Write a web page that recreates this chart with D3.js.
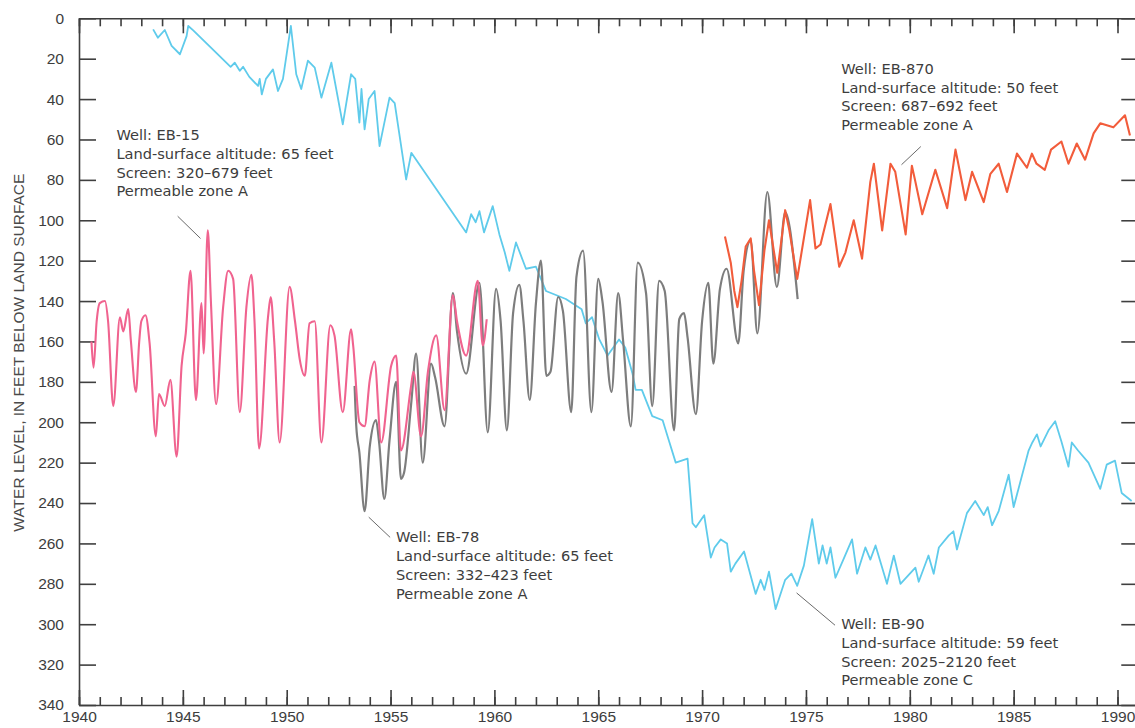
<!DOCTYPE html>
<meta charset="utf-8">
<style>
  body { margin: 0; background: #fff; }
  svg { display: block; }
</style>
<div id="hydro"></div>
<script src="https://d3js.org/d3.v7.min.js"></script>
<script>

// water levels, feet below land surface
var eb15 = [[1940.6,160],[1940.7,173],[1940.85,150],[1941.0,141],[1941.25,140],[1941.4,150],[1941.65,192],
  [1941.97,148],[1942.13,155],[1942.37,144],[1942.5,160],[1942.74,185],[1942.9,160],[1943.0,150],[1943.2,147],
  [1943.4,161],[1943.7,207],[1943.85,186],[1944.13,192],[1944.4,179],[1944.7,217],[1944.94,172],[1945.14,156],
  [1945.37,125],[1945.63,189],[1945.9,141],[1946.0,166],[1946.2,105],[1946.35,140],[1946.6,191],[1946.94,143],
  [1947.18,125],[1947.42,129],[1947.74,195],[1948.06,143],[1948.3,127],[1948.45,150],[1948.67,213],[1949.1,148],
  [1949.23,138],[1949.4,160],[1949.66,210],[1950.14,133],[1950.4,150],[1950.63,169],[1950.87,177],[1951.1,151],
  [1951.35,150],[1951.67,210],[1952.1,152],[1952.3,157],[1952.7,195],[1953.1,154],[1953.2,162],[1953.5,200],
  [1953.75,202],[1954.0,179],[1954.23,170],[1954.55,210],[1955.03,172],[1955.27,167],[1955.5,214],[1955.99,182],
  [1956.1,175],[1956.47,207],[1956.8,175],[1957.2,157],[1957.6,194],[1958.0,137],[1958.2,150],[1958.64,167],
  [1959.2,130],[1959.44,162],[1959.63,149]];

var eb78 = [[1953.27,182],[1953.35,202],[1953.5,215],[1953.75,244],[1954.0,212],[1954.3,199],[1954.45,210],
  [1954.7,238],[1954.95,209],[1955.27,180],[1955.5,228],[1955.65,225],[1956.0,190],[1956.23,166],[1956.55,220],
  [1956.95,171],[1957.15,178],[1957.6,202],[1958.0,136],[1958.2,155],[1958.64,176],[1959.28,131],[1959.68,205],
  [1960.08,134],[1960.3,150],[1960.6,204],[1960.9,146],[1961.2,132],[1961.4,150],[1961.7,189],[1962.0,141],
  [1962.24,120],[1962.5,177],[1962.7,175],[1963.07,138],[1963.3,145],[1963.7,195],[1963.95,128],[1964.27,115],
  [1964.67,195],[1965.0,129],[1965.2,140],[1965.64,185],[1965.96,136],[1966.2,160],[1966.57,202],[1966.9,121],
  [1967.3,136],[1967.6,192],[1967.93,130],[1968.2,135],[1968.65,204],[1968.9,149],[1969.13,146],[1969.3,158],
  [1969.7,196],[1970.0,150],[1970.3,131],[1970.54,171],[1970.86,134],[1971.18,124],[1971.74,161],[1972.0,125],
  [1972.34,110],[1972.66,156],[1973.14,86],[1973.6,133],[1974.0,96],[1974.6,139]];

var eb90 = [[1943.57,5.5],[1943.8,9.6],[1944.13,5.8],[1944.46,13.7],[1944.86,17.8],[1945.18,8.8],[1945.26,3.8],
  [1945.5,6],[1946.5,16],[1947.3,24],[1947.5,22],[1947.74,26],[1947.9,24],[1948.2,29],[1948.62,33.5],[1948.7,30],
  [1948.8,37.7],[1949.0,30],[1949.34,25.3],[1949.58,36],[1949.82,30],[1950.2,3.8],[1950.46,27.7],[1950.7,35],
  [1951.02,21],[1951.35,24.4],[1951.67,39.3],[1952.15,22],[1952.7,52.5],[1953.1,27.7],[1953.3,30],[1953.5,51.7],
  [1953.6,35],[1953.75,55],[1953.95,40],[1954.23,36],[1954.47,63.3],[1954.95,39.3],[1955.2,42],[1955.75,79.8],
  [1956.0,66.6],[1958.64,106],[1958.88,97],[1959.1,101],[1959.28,95.5],[1959.5,106],[1959.92,93],[1960.24,107],
  [1960.5,116],[1960.72,125],[1961.04,111],[1961.52,124],[1962.0,123],[1962.48,135],[1963.44,139],[1964.2,144],
  [1964.4,151],[1964.7,148],[1965.05,159],[1965.45,167],[1966.0,159],[1966.3,163],[1966.65,176],[1966.8,184],
  [1967.1,184],[1967.6,197],[1968.1,199],[1968.4,209],[1968.73,220],[1969.3,218],[1969.54,250],[1969.7,252],
  [1970.1,246],[1970.42,267],[1970.6,262],[1970.9,258],[1971.2,260],[1971.38,274],[1971.6,270],[1972.02,264],
  [1972.58,285],[1972.82,278],[1973.0,283],[1973.22,274],[1973.54,292.5],[1974.0,278],[1974.3,275],[1974.58,281],
  [1974.9,271],[1975.3,248],[1975.62,270],[1975.8,261],[1976.0,270],[1976.18,262],[1976.42,277],[1976.8,268],
  [1977.22,258],[1977.46,275],[1977.86,262],[1978.1,268],[1978.35,261],[1978.9,280],[1979.23,266],[1979.55,280],
  [1980.27,272],[1980.43,279],[1980.9,266],[1981.15,275],[1981.4,262],[1981.88,256],[1982.1,254],[1982.27,263],
  [1982.75,245],[1983.15,239],[1983.56,246],[1983.75,242],[1983.96,251],[1984.28,244],[1984.76,226],[1985.0,242],
  [1985.72,214],[1985.9,210],[1986.12,206],[1986.3,212],[1986.68,204],[1987.0,199.5],[1987.3,209.5],
  [1987.64,222],[1987.8,210],[1988.1,214],[1988.6,220],[1989.17,233],[1989.48,221],[1989.88,219],[1990.2,235],
  [1990.68,239]];

var eb870 = [[1971.1,108],[1971.38,121],[1971.55,135],[1971.7,143],[1971.9,130],[1972.1,113],[1972.34,109],
  [1972.5,125],[1972.74,142],[1973.0,115],[1973.22,100],[1973.62,126],[1974.0,95],[1974.2,105],[1974.58,129],
  [1975.2,90],[1975.46,114],[1975.7,112],[1976.18,92],[1976.6,123],[1976.9,116],[1977.3,100],[1977.7,119],
  [1978.1,81],[1978.27,72],[1978.67,105],[1979.07,72],[1979.3,76],[1979.8,107],[1980.1,73],[1980.25,80],
  [1980.6,97],[1981.23,75],[1981.8,94],[1982.2,65],[1982.68,90],[1983.0,76],[1983.56,91],[1983.88,77],
  [1984.28,72],[1984.68,86],[1985.16,67],[1985.64,74],[1985.88,67],[1986.1,72],[1986.5,75],[1986.8,65],
  [1987.3,61],[1987.64,72],[1988.04,62],[1988.44,70],[1988.85,57],[1989.17,52],[1989.8,54],[1990.36,48],
  [1990.6,58]];

var yTicks = d3.range(0, 341, 20);
var xLabels = [1940, 1945, 1950, 1955, 1960, 1965, 1970, 1975, 1980, 1985, 1990];

var notes = [
  {lines: ["Well: EB-15", "Land-surface altitude: 65 feet", "Screen: 320\u2013679 feet", "Permeable zone A"],
   at: [1941.8, 57.8], from: [1944.75, 98], to: [1945.85, 109]},
  {lines: ["Well: EB-870", "Land-surface altitude: 50 feet", "Screen: 687\u2013692 feet", "Permeable zone A"],
   at: [1976.7, 25], from: [1980.53, 63.5], to: [1979.6, 72.5]},
  {lines: ["Well: EB-78", "Land-surface altitude: 65 feet", "Screen: 332\u2013423 feet", "Permeable zone A"],
   at: [1955.26, 257], from: [1953.95, 247], to: [1954.98, 257]},
  {lines: ["Well: EB-90", "Land-surface altitude: 59 feet", "Screen: 2025\u20132120 feet", "Permeable zone C"],
   at: [1976.7, 300], from: [1974.55, 284.5], to: [1976.4, 300.5]}
];

var width = 1135, height = 728;

var svg = d3.select("#hydro")
  .append("svg")
  .attr("width", width)
  .attr("height", height)
  .attr("font-family", "'Liberation Sans', Arial, Helvetica, sans-serif");

var x = d3.scaleLinear().domain([1940, 1991]).range([79, 79 + 51 * 20.77]);
var y = d3.scaleLinear().domain([0, 340]).range([18.3, 705]);

var axisColor = "#3f3f3f";

function styleAxis(g) {
  g.selectAll("path, line").attr("stroke", axisColor).attr("stroke-width", 1.6);
  g.selectAll("text").attr("font-size", 15.5).attr("fill", "#3d3d3d");
}

var years = d3.range(1940, 1991);
var fives = years.filter(function(d) { return d % 5 == 0; });

// top frame: minor ticks each year, longer every five
svg.append("g")
  .attr("transform", "translate(0," + y(0) + ")")
  .call(d3.axisBottom(x).tickValues(years).tickSize(8).tickSizeOuter(0).tickFormat(""))
  .call(styleAxis);
svg.append("g")
  .attr("transform", "translate(0," + y(0) + ")")
  .call(d3.axisBottom(x).tickValues(fives).tickSize(15).tickSizeOuter(0).tickFormat(""))
  .call(styleAxis)
  .select(".domain").remove();

// bottom frame
svg.append("g")
  .attr("transform", "translate(0," + y(340) + ")")
  .call(d3.axisTop(x).tickValues(years).tickSize(8).tickSizeOuter(0).tickFormat(""))
  .call(styleAxis);
svg.append("g")
  .attr("transform", "translate(0," + y(340) + ")")
  .call(d3.axisTop(x).tickValues(fives).tickSize(15).tickSizeOuter(0).tickFormat(""))
  .call(styleAxis)
  .select(".domain").remove();
svg.append("g")
  .attr("transform", "translate(0," + y(340) + ")")
  .call(d3.axisBottom(x).tickValues(xLabels).tickSize(0).tickPadding(6).tickFormat(d3.format("d")))
  .call(styleAxis)
  .select(".domain").remove();

// left and right frames
svg.append("g")
  .attr("transform", "translate(" + x(1940) + ",0)")
  .call(d3.axisRight(y).tickValues(yTicks).tickSize(17).tickSizeOuter(0).tickFormat(""))
  .call(styleAxis);
svg.append("g")
  .attr("transform", "translate(" + x(1940) + ",0)")
  .call(d3.axisLeft(y).tickValues(yTicks).tickSize(0).tickPadding(15))
  .call(styleAxis)
  .select(".domain").remove();
svg.append("g")
  .attr("transform", "translate(" + x(1991) + ",0)")
  .call(d3.axisLeft(y).tickValues(yTicks).tickSize(17).tickSizeOuter(0).tickFormat(""))
  .call(styleAxis);

svg.append("text")
  .attr("transform", "translate(24," + ((y(0) + y(340)) / 2 - 9) + ")rotate(-90)")
  .attr("text-anchor", "middle")
  .attr("font-size", 15.5)
  .attr("fill", "#4a4a4a")
  .text("WATER LEVEL, IN FEET BELOW LAND SURFACE");

var smooth = d3.line()
  .x(function(d) { return x(d[0]); })
  .y(function(d) { return y(d[1]); })
  .curve(d3.curveMonotoneX);

var jagged = d3.line()
  .x(function(d) { return x(d[0]); })
  .y(function(d) { return y(d[1]); });

svg.append("path").datum(eb90)
  .attr("fill", "none").attr("stroke", "#5fcbeb").attr("stroke-width", 1.8)
  .attr("stroke-linejoin", "round").attr("d", jagged);

svg.append("path").datum(eb78)
  .attr("fill", "none").attr("stroke", "#7d7d7d").attr("stroke-width", 2.2)
  .attr("stroke-linejoin", "round").attr("d", smooth);

svg.append("path").datum(eb15)
  .attr("fill", "none").attr("stroke", "#f0638f").attr("stroke-width", 2.1)
  .attr("stroke-linejoin", "round").attr("d", smooth);

svg.append("path").datum(eb870)
  .attr("fill", "none").attr("stroke", "#f25c3b").attr("stroke-width", 2.1)
  .attr("stroke-linejoin", "round").attr("d", jagged);

// labels with leader lines
var note = svg.append("g").selectAll("g")
  .data(notes)
  .enter().append("g");

note.append("line")
  .attr("x1", function(d) { return x(d.from[0]); })
  .attr("y1", function(d) { return y(d.from[1]); })
  .attr("x2", function(d) { return x(d.to[0]); })
  .attr("y2", function(d) { return y(d.to[1]); })
  .attr("stroke", "#6a6a6a")
  .attr("stroke-width", 1);

note.append("text")
  .attr("x", function(d) { return x(d.at[0]); })
  .attr("y", function(d) { return y(d.at[1]); })
  .attr("font-family", "'DejaVu Sans', sans-serif")
  .attr("font-size", 14.6)
  .attr("fill", "#3d3d3d")
  .selectAll("tspan")
  .data(function(d) { return d.lines.map(function(t) { return {t: t, x: x(d.at[0])}; }); })
  .enter().append("tspan")
    .attr("x", function(d) { return d.x; })
    .attr("dy", function(d, i) { return i ? 18.7 : "0.35em"; })
    .text(function(d) { return d.t; });

</script>
